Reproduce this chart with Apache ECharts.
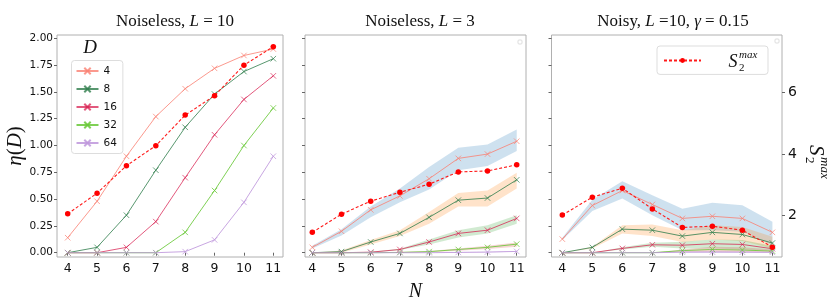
<!DOCTYPE html>
<html><head><meta charset="utf-8">
<script src="https://cdn.jsdelivr.net/npm/echarts@6/dist/echarts.min.js"></script>
<style>html,body{margin:0;padding:0;background:#fff}#c{width:830px;height:297px}</style>
</head><body><div id="c"></div>
<script>
// ---- data ----
const N = [4, 5, 6, 7, 8, 9, 10, 11];
const dLabels = ['4', '8', '16', '32', '64'];
const etaTicks = [0, 0.25, 0.5, 0.75, 1.0, 1.25, 1.5, 1.75, 2.0];
const sTicks = [2, 4, 6];

// Panel A: Noiseless, L = 10
const etaA_D4  = [0.14, 0.48, 0.90, 1.27, 1.53, 1.72, 1.84, 1.90];
const etaA_D8  = [0.00, 0.05, 0.35, 0.77, 1.17, 1.48, 1.69, 1.81];
const etaA_D16 = [0.00, 0.00, 0.05, 0.29, 0.70, 1.10, 1.43, 1.65];
const etaA_D32 = [0.00, 0.00, 0.00, 0.00, 0.19, 0.58, 1.00, 1.35];
const etaA_D64 = [0.00, 0.00, 0.00, 0.00, 0.01, 0.12, 0.47, 0.90];
const s2maxA   = [2.06, 2.73, 3.62, 4.27, 5.26, 5.89, 6.88, 7.48];

// Panel B: Noiseless, L = 3
const etaB_D4  = [0.05, 0.20, 0.40, 0.53, 0.69, 0.88, 0.92, 1.04];
const etaB_D4_lo = [0.04, 0.16, 0.33, 0.47, 0.59, 0.77, 0.81, 0.95];
const etaB_D4_hi = [0.065, 0.22, 0.43, 0.60, 0.80, 0.98, 1.01, 1.15];
const etaB_D8  = [0.00, 0.01, 0.10, 0.18, 0.33, 0.49, 0.51, 0.68];
const etaB_D8_lo = [0.00, 0.00, 0.077, 0.155, 0.27, 0.43, 0.43, 0.60];
const etaB_D8_hi = [0.00, 0.02, 0.118, 0.21, 0.38, 0.557, 0.58, 0.746];
const etaB_D16 = [0.00, 0.00, 0.005, 0.03, 0.10, 0.18, 0.21, 0.32];
const etaB_D16_lo = [0.00, 0.00, 0.00, 0.025, 0.077, 0.142, 0.18, 0.27];
const etaB_D16_hi = [0.00, 0.00, 0.01, 0.037, 0.124, 0.21, 0.257, 0.35];
const etaB_D32 = [0.00, 0.00, 0.00, 0.003, 0.01, 0.03, 0.05, 0.08];
const etaB_D32_lo = [0.00, 0.00, 0.00, 0.00, 0.005, 0.019, 0.034, 0.056];
const etaB_D32_hi = [0.00, 0.00, 0.00, 0.006, 0.015, 0.04, 0.065, 0.096];
const etaB_D64 = [0.00, 0.00, 0.00, 0.00, 0.00, 0.003, 0.006, 0.012];
const etaB_D64_lo = [0.00, 0.00, 0.00, 0.00, 0.00, 0.00, 0.003, 0.008];
const etaB_D64_hi = [0.00, 0.00, 0.00, 0.00, 0.003, 0.006, 0.01, 0.016];
const s2maxB   = [1.46, 2.05, 2.47, 2.76, 3.02, 3.42, 3.45, 3.65];

// Panel C: Noisy, L = 10, gamma = 0.15
const etaC_D4  = [0.127, 0.44, 0.58, 0.45, 0.32, 0.34, 0.32, 0.19];
const etaC_D4_lo = [0.118, 0.39, 0.505, 0.35, 0.21, 0.21, 0.195, 0.07];
const etaC_D4_hi = [0.139, 0.495, 0.666, 0.536, 0.41, 0.467, 0.443, 0.288];
const etaC_D8  = [0.00, 0.05, 0.22, 0.21, 0.155, 0.19, 0.17, 0.09];
const etaC_D8_lo = [0.00, 0.04, 0.18, 0.155, 0.10, 0.124, 0.11, 0.04];
const etaC_D8_hi = [0.00, 0.056, 0.257, 0.263, 0.21, 0.257, 0.24, 0.149];
const etaC_D16 = [0.00, 0.00, 0.04, 0.074, 0.07, 0.084, 0.077, 0.037];
const etaC_D16_lo = [0.00, 0.00, 0.03, 0.056, 0.04, 0.04, 0.031, 0.019];
const etaC_D16_hi = [0.00, 0.00, 0.05, 0.093, 0.102, 0.124, 0.118, 0.062];
const etaC_D32 = [0.00, 0.00, 0.00, 0.00, 0.02, 0.03, 0.025, 0.015];
const etaC_D32_lo = [0.00, 0.00, 0.00, 0.00, 0.006, 0.009, 0.006, 0.003];
const etaC_D32_hi = [0.00, 0.00, 0.00, 0.00, 0.031, 0.056, 0.05, 0.031];
const etaC_D64 = [0.00, 0.00, 0.00, 0.00, 0.005, 0.006, 0.005, 0.004];
const etaC_D64_lo = [0.00, 0.00, 0.00, 0.00, 0.00, 0.00, 0.00, 0.00];
const etaC_D64_hi = [0.00, 0.00, 0.00, 0.00, 0.012, 0.014, 0.012, 0.01];
const s2maxC   = [2.02, 2.60, 2.89, 2.22, 1.62, 1.66, 1.53, 0.98];

// ---- styles ----
const lineCol = ['rgba(250,128,114,0.8)', 'rgba(46,125,75,0.8)', 'rgba(215,25,75,0.72)', 'rgba(105,200,55,0.85)', 'rgba(190,150,220,0.85)'];
const bandCol = ['rgba(31,119,180,0.22)', 'rgba(255,127,14,0.22)', 'rgba(44,160,44,0.22)', 'rgba(214,39,40,0.2)', 'rgba(148,103,189,0.22)'];
const xSym = 'path://M0,0L10,10M10,0L0,10';
const SANS = 'DejaVu Sans';
const SERIF = 'Liberation Serif';
const spine = '#b0b0b0';

const grids = [
  {left: 57, top: 35, width: 226, height: 222},
  {left: 305, top: 35, width: 221, height: 222},
  {left: 551.5, top: 35, width: 230.5, height: 222}
];
const xRange = [[3.636, 11.33], [3.75, 11.318], [3.64, 11.32]];
const etaRange = [-0.040, 2.031];
const sRange = [0.661, 7.857];

const xAxes = grids.map((g, i) => ({
  gridIndex: i, type: 'value', min: xRange[i][0], max: xRange[i][1],
  axisLine: {show: false}, splitLine: {show: false},
  axisTick: {show: true, customValues: N, length: 3, lineStyle: {color: '#666'}},
  axisLabel: {customValues: N, fontFamily: SANS, fontSize: 12.5, color: '#111', margin: 5},
  name: i === 1 ? 'N' : '', nameLocation: 'middle', nameGap: 25,
  nameTextStyle: {fontFamily: SERIF, fontStyle: 'italic', fontSize: 20, color: '#111'}
}));
const yAxes = [];
grids.forEach((g, i) => {
  yAxes.push({
    gridIndex: i, type: 'value', position: 'left', min: etaRange[0], max: etaRange[1],
    axisLine: {show: false}, splitLine: {show: false},
    axisTick: {show: true, customValues: etaTicks, length: 3, lineStyle: {color: '#666'}},
    axisLabel: {show: i === 0, customValues: etaTicks, fontFamily: SANS, fontSize: 10.5, color: '#111', margin: 4,
      formatter: v => v.toFixed(2)}
  });
  yAxes.push({
    gridIndex: i, type: 'value', position: 'right', min: sRange[0], max: sRange[1],
    show: i === 2,
    axisLine: {show: false}, splitLine: {show: false},
    axisTick: {show: true, customValues: sTicks, length: 3, lineStyle: {color: '#666'}},
    axisLabel: {customValues: sTicks, fontFamily: SANS, fontSize: 14, color: '#111', margin: 6}
  });
});

function lineSeries(gi, name, vals, c) {
  return {
    type: 'line', name: name, xAxisIndex: gi, yAxisIndex: gi * 2,
    data: N.map((x, k) => [x, vals[k]]),
    symbol: xSym, symbolSize: 5.5, showSymbol: true,
    lineStyle: {color: c, width: 1},
    itemStyle: {color: c, borderColor: c, borderWidth: 0.9},
    z: 3, animation: false
  };
}
function bandSeries(gi, lo, hi, c) {
  return {
    type: 'custom', xAxisIndex: gi, yAxisIndex: gi * 2, silent: true, z: 1, animation: false,
    data: N.map((x, k) => [x, lo[k], hi[k]]),
    encode: {x: 0, y: [1, 2]},
    renderItem: function (params, api) {
      if (params.dataIndex !== 0) return null;
      const top = [], bot = [];
      for (let k = 0; k < N.length; k++) {
        top.push(api.coord([N[k], hi[k]]));
        bot.unshift(api.coord([N[k], lo[k]]));
      }
      return {type: 'polygon', shape: {points: top.concat(bot)}, style: {fill: c}};
    }
  };
}
function redSeries(gi, vals) {
  return {
    type: 'line', name: 'S2max', xAxisIndex: gi, yAxisIndex: gi * 2 + 1,
    data: N.map((x, k) => [x, vals[k]]),
    symbol: 'circle', symbolSize: 5.5,
    lineStyle: {color: '#ff1a1a', width: 1.1, type: [3, 2]},
    itemStyle: {color: '#ff0000'},
    z: 5, animation: false
  };
}

const series = [];
[etaA_D4, etaA_D8, etaA_D16, etaA_D32, etaA_D64].forEach((v, k) => series.push(lineSeries(0, dLabels[k], v, lineCol[k])));
series.push(redSeries(0, s2maxA));

const bB = [[etaB_D4_lo, etaB_D4_hi], [etaB_D8_lo, etaB_D8_hi], [etaB_D16_lo, etaB_D16_hi], [etaB_D32_lo, etaB_D32_hi], [etaB_D64_lo, etaB_D64_hi]];
bB.forEach((b, k) => series.push(bandSeries(1, b[0], b[1], bandCol[k])));
[etaB_D4, etaB_D8, etaB_D16, etaB_D32, etaB_D64].forEach((v, k) => series.push(lineSeries(1, dLabels[k], v, lineCol[k])));
series.push(redSeries(1, s2maxB));

const bC = [[etaC_D4_lo, etaC_D4_hi], [etaC_D8_lo, etaC_D8_hi], [etaC_D16_lo, etaC_D16_hi], [etaC_D32_lo, etaC_D32_hi], [etaC_D64_lo, etaC_D64_hi]];
bC.forEach((b, k) => series.push(bandSeries(2, b[0], b[1], bandCol[k])));
[etaC_D4, etaC_D8, etaC_D16, etaC_D32, etaC_D64].forEach((v, k) => series.push(lineSeries(2, dLabels[k], v, lineCol[k])));
series.push(redSeries(2, s2maxC));

const titleRich = {
  r: {fontFamily: SERIF, fontSize: 17, fontWeight: 'normal', color: '#111'},
  i: {fontFamily: SERIF, fontSize: 17, fontStyle: 'italic', fontWeight: 'normal', color: '#111'}
};
const tStyle = {fontWeight: 'normal', rich: titleRich};

const option = {
  animation: false,
  backgroundColor: '#fff',
  grid: grids.map(g => Object.assign({show: true, borderColor: spine, borderWidth: 1, backgroundColor: 'transparent',
    containLabel: false, outerBoundsMode: 'none'}, g)),
  xAxis: xAxes,
  yAxis: yAxes,
  title: [
    {text: '{r|Noiseless, }{i|L}{r| = 10}', left: 170, top: 8, textAlign: 'center', textStyle: tStyle},
    {text: '{r|Noiseless, }{i|L}{r| = 3}', left: 415, top: 8, textAlign: 'center', textStyle: tStyle},
    {text: '{r|Noisy, }{i|L}{r| =10, }{i|γ}{r| = 0.15}', left: 668, top: 8, textAlign: 'center', textStyle: tStyle}
  ],
  legend: [
    {
      data: dLabels, orient: 'vertical', left: 71.5, top: 60.5,
      itemWidth: 22, itemHeight: 8, itemGap: 7,
      padding: [5, 6, 5, 4],
      backgroundColor: 'rgba(255,255,255,0.85)', borderColor: '#dddddd', borderWidth: 1, borderRadius: 3,
      textStyle: {fontFamily: SANS, fontSize: 10.5, color: '#111'},
      selectedMode: false
    },
    {
      data: ['S2max'], orient: 'vertical', left: 657, top: 46,
      itemWidth: 37, itemHeight: 6, padding: [11.5, 66, 11.5, 6],
      backgroundColor: 'rgba(255,255,255,0.85)', borderColor: '#dddddd', borderWidth: 1, borderRadius: 3,
      formatter: () => '', selectedMode: false
    }
  ],
  graphic: [
    {type: 'text', x: 15, y: 146, rotation: Math.PI / 2, z: 100,
      style: {text: '{i|η}{r|(}{i|D}{r|)}', align: 'center', verticalAlign: 'middle',
        rich: {i: {fontFamily: SERIF, fontStyle: 'italic', fontSize: 21, fill: '#111'}, r: {fontFamily: SERIF, fontSize: 21, fill: '#111'}}}},
    {type: 'text', x: 90, y: 48, z: 100,
      style: {text: 'D', font: 'italic 19px "Liberation Serif"', fill: '#111', align: 'center', verticalAlign: 'middle'}},
    // legend label S_2^max
    {type: 'text', x: 733, y: 62, z: 100, style: {text: 'S', font: 'italic 18px "Liberation Serif"', fill: '#111', align: 'center', verticalAlign: 'middle'}},
    {type: 'text', x: 739, y: 55, z: 100, style: {text: 'max', font: 'italic 11px "Liberation Serif"', fill: '#111', align: 'left', verticalAlign: 'middle'}},
    {type: 'text', x: 739, y: 68, z: 100, style: {text: '2', font: '11px "Liberation Serif"', fill: '#111', align: 'left', verticalAlign: 'middle'}},
    // right axis name S_2^max (rotated, reading downward)
    {type: 'group', x: 816, y: 145, rotation: -Math.PI / 2, z: 100, children: [
      {type: 'text', x: 0, y: 0, style: {text: 'S', font: 'italic 21px "Liberation Serif"', fill: '#111', align: 'left', verticalAlign: 'middle'}},
      {type: 'text', x: 12, y: -8, style: {text: 'max', font: 'italic 13px "Liberation Serif"', fill: '#111', align: 'left', verticalAlign: 'middle'}},
      {type: 'text', x: 12, y: 7, style: {text: '2', font: '13px "Liberation Serif"', fill: '#111', align: 'left', verticalAlign: 'middle'}}
    ]},
    // empty legend artifacts
    {type: 'rect', shape: {x: 518, y: 40, width: 4, height: 4, r: 1}, style: {fill: '#fff', stroke: '#dddddd', lineWidth: 1}},
    {type: 'rect', shape: {x: 775, y: 39, width: 4, height: 4, r: 1}, style: {fill: '#fff', stroke: '#dddddd', lineWidth: 1}}
  ],
  series: series
};

const chart = echarts.init(document.getElementById('c'), null, {renderer: 'canvas'});
chart.setOption(option);
</script>
</body></html>
